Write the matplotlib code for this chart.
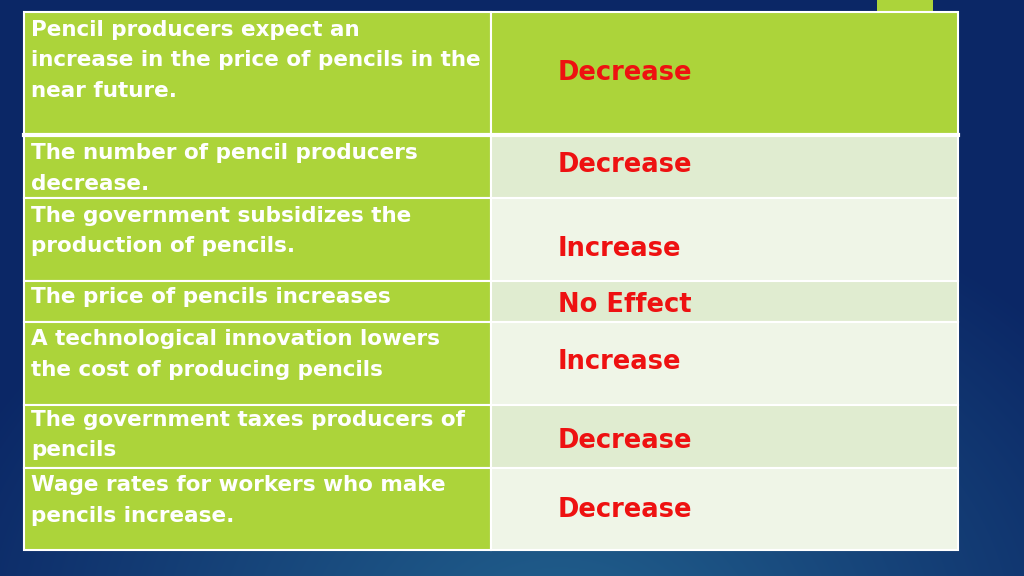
import numpy as np
import matplotlib.pyplot as plt
from matplotlib.patches import Rectangle

# Table content
causes = [
    ["Pencil producers expect an", "increase in the price of pencils in the", "near future."],
    ["The number of pencil producers", "decrease."],
    ["The government subsidizes the", "production of pencils."],
    ["The price of pencils increases"],
    ["A technological innovation lowers", "the cost of producing pencils"],
    ["The government taxes producers of", "pencils"],
    ["Wage rates for workers who make", "pencils increase."],
]
effects = ["Decrease", "Decrease", "Increase", "No Effect", "Increase", "Decrease", "Decrease"]

# layout (pixels)
row_edges = [12, 135, 198, 281, 322, 405, 468, 550]
x_left, x_mid, x_right = 24, 491, 958
first_line_y = [30, 153, 216, 297, 339, 420, 485]
effect_y = [73, 165, 249, 305, 362, 441, 510]

green = "#acd43a"
light_a = "#e0ecd0"
light_b = "#eff5e7"

fig = plt.figure(figsize=(10.24, 5.76), dpi=100)
ax = fig.add_axes([0, 0, 1, 1])
ax.set_xlim(0, 1024)
ax.set_ylim(576, 0)
ax.axis("off")

# background gradient
yy, xx = np.mgrid[0:576, 0:1024]
d = np.sqrt(((xx - 560) / 650.0) ** 2 + ((yy - 640) / 480.0) ** 2)
d = np.clip(d, 0, 1)
c0 = np.array([0x22, 0x62, 0x8e]) / 255.0
c1 = np.array([0x0b, 0x27, 0x66]) / 255.0
img = c0[None, None, :] * (1 - d[..., None]) + c1[None, None, :] * d[..., None]
ax.imshow(img, extent=(0, 1024, 576, 0), aspect="auto", zorder=0)

# green accent top right
ax.add_patch(Rectangle((877, 0), 56, 14, facecolor=green, edgecolor="none", zorder=1))

for i in range(len(effects)):
    y0, y1 = row_edges[i], row_edges[i + 1]
    ax.add_patch(Rectangle((x_left, y0), x_mid - x_left, y1 - y0,
                           facecolor=green, edgecolor="white", lw=1.5, zorder=2))
    if i == 0:
        fc = green
    elif i % 2 == 1:
        fc = light_a
    else:
        fc = light_b
    ax.add_patch(Rectangle((x_mid, y0), x_right - x_mid, y1 - y0,
                           facecolor=fc, edgecolor="white", lw=1.5, zorder=2))
    for j, line in enumerate(causes[i]):
        ax.text(31, first_line_y[i] + 30.5 * j, line, color="white", fontsize=15.5,
                fontweight="bold", family="DejaVu Sans", va="center", ha="left", zorder=3)
    ax.text(558, effect_y[i], effects[i], color="#ee1111", fontsize=18.5,
            fontweight="bold", family="DejaVu Sans", va="center", ha="left", zorder=3)

# thicker separator under first row
ax.plot([x_left, x_right], [row_edges[1], row_edges[1]], color="white", lw=3, zorder=2.5)

fig.savefig("out.png", dpi=100)
